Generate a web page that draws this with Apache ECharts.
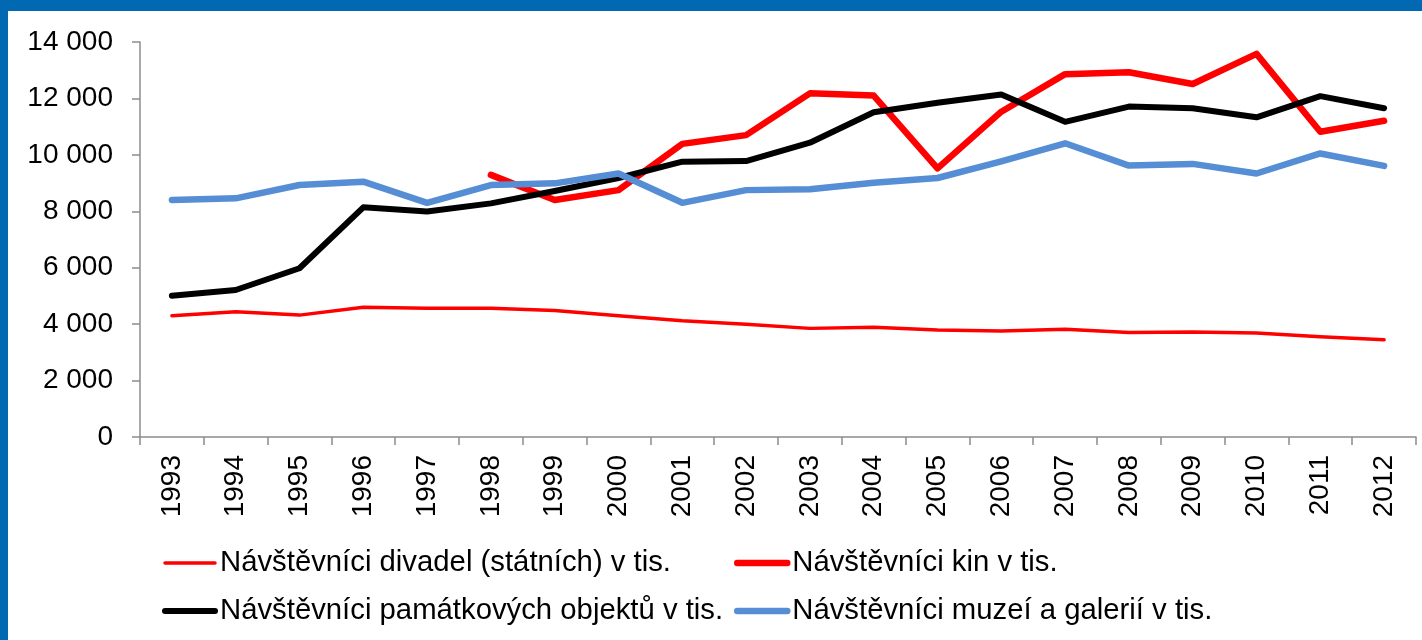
<!DOCTYPE html>
<html>
<head>
<meta charset="utf-8">
<script src="https://cdn.jsdelivr.net/npm/echarts@6/dist/echarts.min.js"></script>
<style>
html,body{margin:0;padding:0;background:#fff;}
#chart{width:1422px;height:640px;}
</style>
</head>
<body>
<div id="chart"></div>
<script>
const years = ['1993','1994','1995','1996','1997','1998','1999','2000','2001','2002','2003','2004','2005','2006','2007','2008','2009','2010','2011','2012'];
const seriesNames = [
  'Návštěvníci divadel (státních) v tis.',
  'Návštěvníci kin v tis.',
  'Návštěvníci památkových objektů v tis.',
  'Návštěvníci muzeí a galerií v tis.'
];
const divadla = [4300,4440,4320,4600,4560,4560,4480,4300,4120,4000,3850,3890,3790,3760,3820,3700,3720,3690,3550,3450];
const kina = [null,null,null,null,null,9290,8400,8750,10390,10700,12180,12100,9520,11530,12860,12930,12510,13580,10820,11210];
const pamatky = [5010,5210,5980,8140,7990,8280,8720,9180,9760,9780,10430,11510,11850,12140,11170,11710,11650,11330,12080,11650];
const muzea = [8400,8460,8930,9050,8300,8930,8990,9340,8300,8750,8780,9010,9180,9770,10410,9620,9680,9340,10050,9610];
const yTicks = {min: 0, max: 14000, interval: 2000};

const FONT = '"Liberation Sans", Arial, sans-serif';
const colors = ['#FF0000', '#FF0000', '#000000', '#558ED5'];
const widths = [3.5, 6.5, 6, 6.5];
const dataSets = [divadla, kina, pamatky, muzea];

const chart = echarts.init(document.getElementById('chart'), null, {renderer: 'canvas'});

function fmt(v){ return String(v).replace(/\B(?=(\d{3})+(?!\d))/g, ' '); }

function makeLegend(left, idx) {
  return {
    orient: 'vertical',
    left: left,
    top: 548,
    padding: 0,
    itemWidth: 50,
    itemHeight: 14,
    itemGap: 18,
    selectedMode: false,
    textStyle: {fontFamily: FONT, fontSize: 29.3, lineHeight: 30, color: '#000'},
    data: idx.map(i => ({
      name: seriesNames[i],
      lineStyle: {width: widths[i], color: colors[i], cap: 'round'},
      itemStyle: {opacity: 0}
    }))
  };
}

const option = {
  backgroundColor: '#fff',
  animation: false,
  graphic: [
    {type: 'rect', left: 0, top: 0, shape: {width: 1422, height: 11}, style: {fill: '#0169B1'}, z: 100},
    {type: 'rect', left: 0, top: 0, shape: {width: 8, height: 640}, style: {fill: '#0169B1'}, z: 100}
  ],
  grid: {left: 140, top: 42, right: 6, bottom: 203, containLabel: false},
  legend: [makeLegend(162, [0, 2]), makeLegend(734, [1, 3])],
  xAxis: {
    type: 'category',
    data: years,
    boundaryGap: true,
    axisLine: {lineStyle: {color: '#8C8C8C', width: 1.5}},
    axisTick: {show: true, alignWithLabel: false, length: 8, lineStyle: {color: '#8C8C8C', width: 1.5}},
    axisLabel: {rotate: 90, margin: 18, fontFamily: FONT, fontSize: 28, color: '#000', interval: 0}
  },
  yAxis: {
    type: 'value',
    min: yTicks.min, max: yTicks.max, interval: yTicks.interval,
    splitLine: {show: false},
    axisLine: {show: true, lineStyle: {color: '#8C8C8C', width: 1.5}},
    axisTick: {show: true, length: 8, lineStyle: {color: '#8C8C8C', width: 1.5}},
    axisLabel: {margin: 27, fontFamily: FONT, fontSize: 28, color: '#000', formatter: fmt}
  },
  series: dataSets.map((d, i) => ({
    name: seriesNames[i],
    type: 'line',
    data: d,
    symbol: 'none',
    showSymbol: false,
    connectNulls: false,
    lineStyle: {color: colors[i], width: widths[i], cap: 'round', join: 'round'},
    itemStyle: {color: colors[i]},
    z: 2 + i
  }))
};
chart.setOption(option);
</script>
</body>
</html>
